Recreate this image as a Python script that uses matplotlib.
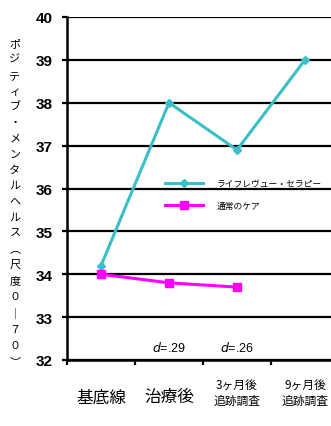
import matplotlib
matplotlib.use("Agg")
import matplotlib.pyplot as plt
from matplotlib.lines import Line2D

plt.rcParams['font.family'] = ['Noto Sans CJK JP', 'DejaVu Sans']

categories = ['基底線', '治療後', '3ヶ月後\n追跡調査', '9ヶ月後\n追跡調査']
life_review = [34.2, 38.0, 36.9, 39.0]
usual_care = [34.0, 33.8, 33.7]
series_names = ['ライフレヴュー・セラピー', '通常のケア']
effect_labels = ['.29', '.26']
yticks = [32, 33, 34, 35, 36, 37, 38, 39, 40]
ylabel = 'ポジティブ・メンタルヘルス︵尺度０｜７０︶'

cyan = '#3ABFC9'
magenta = '#FF00FF'

fig = plt.figure(figsize=(3.31, 4.27), dpi=100)
ax = fig.add_axes([67/331, 1-361/427, (339-67)/331, (361-18)/427])

x = list(range(len(categories)))
ax.plot(x, life_review, color=cyan, lw=2.2, marker='D', ms=4, zorder=3)
ax.plot(x[:len(usual_care)], usual_care, color=magenta, lw=2.2, marker='s', ms=6, zorder=3)

ax.set_xlim(-0.5, len(categories) - 0.5)
ax.set_ylim(32, 40)
ax.set_yticks(yticks)
ax.set_yticklabels([str(v) for v in yticks], fontsize=11, fontweight='bold',
                   family=['Liberation Sans Narrow', 'Liberation Sans', 'DejaVu Sans'])
ax.yaxis.grid(True, color='black', lw=1.6)
ax.set_axisbelow(True)
ax.set_xticks([i - 0.5 for i in range(len(categories) + 1)])
ax.set_xticklabels([])
ax.tick_params(axis='both', direction='out', length=3.6, width=1.6, color='black')
ax.tick_params(axis='y', pad=7)

for s in ['top', 'right']:
    ax.spines[s].set_visible(False)
for s in ['left', 'bottom']:
    ax.spines[s].set_linewidth(1.8)

# category labels
for i, c in enumerate(categories):
    if '\n' in c:
        ax.text(i, -0.095, c, transform=ax.get_xaxis_transform(), ha='center',
                va='center', fontsize=8.5, linespacing=1.25)
    else:
        ax.text(i, -0.107, c, transform=ax.get_xaxis_transform(), ha='center',
                va='center', fontsize=12)

# effect sizes
for i, e in enumerate(effect_labels):
    ax.text(i + 1, 32.3, '$d$=' + e, ha='center', va='center', fontsize=9,
            family=['Liberation Sans', 'DejaVu Sans'])

# y label, stacked vertically
fig.text(15/331, 1-203/427, '\n'.join(ylabel), ha='center', va='center',
         fontsize=8, linespacing=1.72)

handles = [Line2D([], [], color=cyan, lw=2.2, marker='D', ms=4),
           Line2D([], [], color=magenta, lw=2.2, marker='s', ms=6)]
fig.legend(handles, series_names, loc='upper left',
           bbox_to_anchor=(165/331, 1-180/427), frameon=False, fontsize=6.3,
           handlelength=4.3, handletextpad=1.6, labelspacing=1.5,
           borderpad=0, borderaxespad=0)

fig.savefig('out.png', dpi=100)
